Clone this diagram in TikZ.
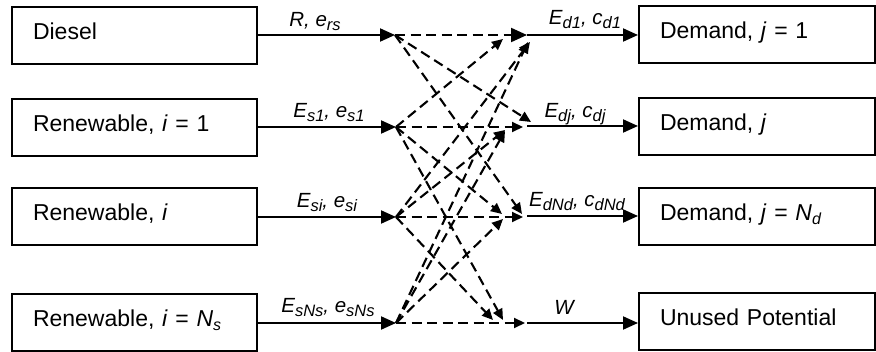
\documentclass[tikz,border=0pt]{standalone}
\usepackage{fontspec}
\setmainfont{Liberation Sans}
\usetikzlibrary{arrows.meta}
\newcommand{\lsub}[1]{\raisebox{-0.3ex}{\fontsize{16.5}{17}\selectfont\itshape #1}}
\newcommand{\usub}[1]{\raisebox{-0.3ex}{\fontsize{16.5}{17}\selectfont #1}}
\newcommand{\bsub}[1]{\raisebox{-0.3ex}{\fontsize{16}{17}\selectfont\itshape #1}}
\tikzset{
  lbox/.style={draw, line width=2pt, minimum width=245pt, minimum height=57pt,
    text width=203pt, inner xsep=21pt, align=left, text height=16pt, text depth=8pt,
    font=\fontsize{23}{27}\selectfont},
  rbox/.style={draw, line width=2pt, minimum width=236pt, minimum height=57pt,
    text width=194pt, inner xsep=21pt, align=left, text height=16pt, text depth=8pt,
    font=\fontsize{23}{27}\selectfont},
  solidarrow/.style={line width=2pt, -{Triangle[length=15pt,width=13pt]}},
  dasharrow/.style={line width=2.1pt, dash pattern=on 10pt off 5.5pt, -{Triangle[length=11pt,width=10pt]}},
  bigdasharrow/.style={line width=2.1pt, dash pattern=on 10pt off 5.5pt, -{Triangle[length=16pt,width=14pt]}},
  lab/.style={anchor=base, inner sep=0pt, font=\fontsize{20.5}{22}\selectfont\itshape},
}
\begin{document}
\begin{tikzpicture}[x=1pt,y=-1pt]
\useasboundingbox (0,0) rectangle (876,352);

% left boxes
\node[lbox] (diesel) at (134.5,35.5) {Diesel};
\node[lbox] (s1) at (134.5,127.5) {Renewable, \textit{i} = 1};
\node[lbox] (si) at (134.5,217) {Renewable, \textit{i}};
\node[lbox] (sn) at (134.5,323) {Renewable, \textit{i} = \textit{N}\bsub{s}};

% right boxes
\node[rbox] (d1) at (757,34.5) {Demand, \textit{j} = 1};
\node[rbox] (dj) at (757,126.5) {Demand, \textit{j}};
\node[rbox] (dn) at (757,216.5) {Demand, \textit{j} = \textit{N}\bsub{d}};
\node[rbox] (w) at (757,322) {Unused Potential};

% junction points
\coordinate (p1) at (395,35);
\coordinate (p2) at (396,127);
\coordinate (p3) at (396,217);
\coordinate (p4) at (396,323);
\coordinate (q1) at (527,35);
\coordinate (q2) at (527,126);
\coordinate (q3) at (527,216);
\coordinate (q4) at (527,323);

% solid arrows
\draw[solidarrow] (diesel.east |- p1) -- (p1);
\draw[solidarrow] (s1.east |- p2) -- (p2);
\draw[solidarrow] (si.east |- p3) -- (p3);
\draw[solidarrow] (sn.east |- p4) -- (p4);
\draw[solidarrow] (q1) -- (d1.west |- q1);
\draw[solidarrow] (q2) -- (dj.west |- q2);
\draw[solidarrow] (q3) -- (dn.west |- q3);
\draw[solidarrow] (q4) -- (w.west |- q4);

% labels
\node[lab] (l1) at (315,27) {R, e\lsub{rs}};
\node[lab] (l2) at (329,118) {E\lsub{s1}, e\lsub{s1}};
\node[lab] (l3) at (327,208) {E\lsub{si}, e\lsub{si}};
\node[lab] (l4) at (328,313) {E\lsub{sNs}, e\lsub{sNs}};
\node[lab] (r1) at (585,25) {E\lsub{d}\usub{1}, c\lsub{d}\usub{1}};
\node[lab] (r2) at (575,118) {E\lsub{dj}, c\lsub{dj}};
\node[lab] (r3) at (577,207) {E\lsub{dNd}, c\lsub{dNd}};
\node[lab] (r4) at (564,315) {W};

% dashed tips
\coordinate (a2) at (531,122);
\coordinate (a3) at (522,214);
\coordinate (b1) at (503,39);
\coordinate (b2) at (523,127);
\coordinate (b3) at (502,214);
\coordinate (b4) at (503,320);
\coordinate (c1) at (530,42);
\coordinate (c2) at (505,130);
\coordinate (c3) at (523,217);
\coordinate (c4) at (493,320);
\coordinate (e1) at (528,42);
\coordinate (e2) at (505,131);
\coordinate (e3) at (503,219);
\coordinate (e4) at (525,323);

% dashed connections
\draw[bigdasharrow] (p1) -- (q1);
\draw[dasharrow] (p1) -- (a2);
\draw[dasharrow] (p1) -- (a3);
\draw[dasharrow] (p2) -- (b1);
\draw[dasharrow] (p2) -- (b2);
\draw[dasharrow] (p2) -- (b3);
\draw[dasharrow] (p2) -- (b4);
\draw[dasharrow] (p3) -- (c1);
\draw[dasharrow] (p3) -- (c2);
\draw[dasharrow] (p3) -- (c3);
\draw[dasharrow] (p3) -- (c4);
\draw[dasharrow] (p4) -- (e1);
\draw[dasharrow] (p4) -- (e2);
\draw[dasharrow] (p4) -- (e3);
\draw[dasharrow] (p4) -- (e4);
\end{tikzpicture}
\end{document}
